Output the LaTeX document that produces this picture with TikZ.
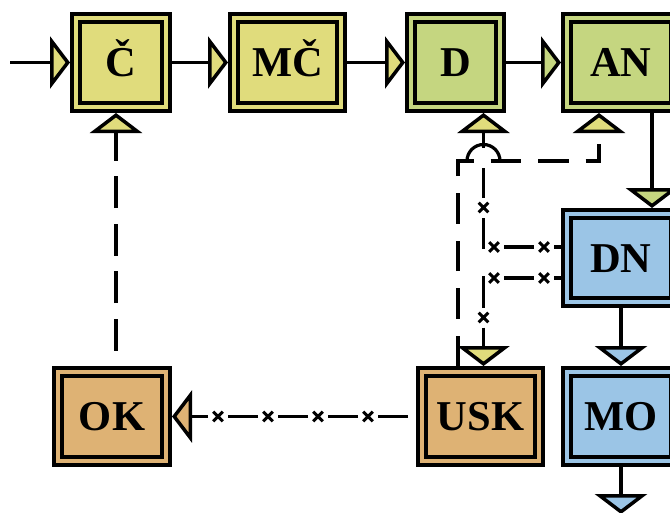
\documentclass[tikz,border=0pt]{standalone}
\usepackage{fontspec}
\setmainfont{Liberation Serif}
\usetikzlibrary{arrows.meta,decorations.markings}

\definecolor{yel}{HTML}{E0DC7C}
\definecolor{grn}{HTML}{C5D680}
\definecolor{blu}{HTML}{9BC5E6}
\definecolor{org}{HTML}{DEB274}

\begin{document}
\begin{tikzpicture}[x=1pt,y=-1pt,
  box/.style={draw=black, line width=4pt, double distance=4pt, inner sep=0pt,
    outer sep=6pt, minimum height=89pt, text height=28pt, text depth=0pt,
    font=\fontsize{42.5}{50}\selectfont\bfseries},
  ybox/.style={box, fill=yel, double=yel},
  gbox/.style={box, fill=grn, double=grn},
  bbox/.style={box, fill=blu, double=blu},
  obox/.style={box, fill=org, double=org},
  conn/.style={line width=3.2pt},
  arr/.style={-{Triangle[length=20pt,width=52pt,line width=3.5pt,fill=#1]}},
  longdash/.style={dash pattern=on 32pt off 15.5pt, dash phase=32pt},
  longdashb/.style={dash pattern=on 30.5pt off 17pt},
  xline/.style={dash pattern=on 30pt off 20pt, dash phase=#1},
  xmarks/.style 2 args={postaction={decorate}, decoration={markings,
    mark=between positions #1 and #2 step 50pt with
      {\draw[solid, line width=3pt, arrows=-] (-4.8pt,-4.8pt) -- (4.8pt,4.8pt) (-4.8pt,4.8pt) -- (4.8pt,-4.8pt);}}}
]
\useasboundingbox (0,0) rectangle (670,512);

% blocks
\node[ybox, minimum width=90pt]  (c)   at (121,62.5)   {Č};
\node[ybox, minimum width=107pt] (mc)  at (287.5,62.5) {MČ};
\node[gbox, minimum width=89pt]  (d)   at (455.5,62.5) {D};
\node[gbox, minimum width=108pt] (an)  at (621,62.5)   {AN};
\node[bbox, minimum width=108pt, minimum height=88pt] (dn) at (621,258) {DN};
\node[bbox, minimum width=108pt] (mo)  at (621,416.5)  {MO};
\node[obox, minimum width=117pt] (usk) at (480.5,416.5) {USK};
\node[obox, minimum width=108pt] (ok)  at (112,416.5)  {OK};

\coordinate (src)  at (10,62.5);
\coordinate (sink) at (621,514);

% main chain
\draw[conn, arr=yel] (src) -- (c.west);
\draw[conn, arr=yel] (c.east) -- (mc.west);
\draw[conn, arr=yel] (mc.east) -- (d.west);
\draw[conn, arr=grn] (d.east) -- (an.west);
\draw[conn, arr=grn] ([xshift=31pt]an.south) -- ([xshift=31pt]dn.north);
\draw[conn, arr=blu] (dn.south) -- (mo.north);
\draw[conn, arr=blu] (mo.south) -- (sink);

% dashed feedback links
\draw[conn, longdash, arr=yel] ([xshift=4pt]ok.north) -- ([xshift=-5pt]c.south);
\draw[conn, longdashb, arr=yel] ([xshift=-22.5pt]usk.north)
  |- ([xshift=-22pt,yshift=-48pt]an.south) -- ([xshift=-22pt]an.south);

% links with cross marks
\draw[conn, xline=42pt, xmarks={48pt}{200pt}, arr=org] (usk.west) -- (ok.east);
\draw[conn, xline=23pt, xmarks={17pt}{120pt}, arr=yel] ([yshift=11pt]dn.west) -| ([xshift=28pt]d.south);
\draw[conn, xline=23pt, xmarks={17pt}{120pt}, arr=yel] ([yshift=-20pt]dn.west) -| ([xshift=3pt]usk.north);

% line jump over the dashed link
\draw[conn] (467,161) arc[start angle=180, end angle=360, radius=16.5];
\end{tikzpicture}
\end{document}
